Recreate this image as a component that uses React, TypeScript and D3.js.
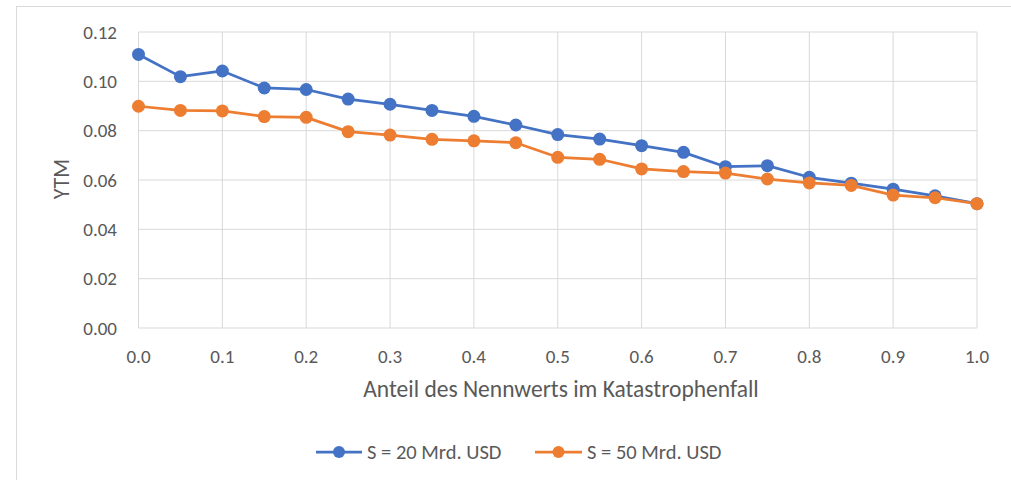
import * as d3 from 'd3';
import React from 'react';

// share of face value lost in the catastrophe case
const anteil = [0, 0.05, 0.1, 0.15, 0.2, 0.25, 0.3, 0.35, 0.4, 0.45, 0.5, 0.55, 0.6, 0.65, 0.7, 0.75, 0.8, 0.85, 0.9, 0.95, 1.0];

// YTM for S = 20 Mrd. USD
const ytm20 = [0.1109, 0.1019, 0.1042, 0.0973, 0.0967, 0.0928, 0.0907, 0.0882, 0.0858, 0.0823, 0.0784, 0.0766, 0.0739, 0.0712, 0.0654, 0.0658, 0.0611, 0.0587, 0.0563, 0.0536, 0.0504];

// YTM for S = 50 Mrd. USD
const ytm50 = [0.0899, 0.0882, 0.0880, 0.0857, 0.0854, 0.0796, 0.0782, 0.0765, 0.0759, 0.0751, 0.0692, 0.0684, 0.0645, 0.0634, 0.0628, 0.0604, 0.0588, 0.0578, 0.0539, 0.0528, 0.0504];

const xTicks = [0, 0.1, 0.2, 0.3, 0.4, 0.5, 0.6, 0.7, 0.8, 0.9, 1.0];
const yTicks = [0, 0.02, 0.04, 0.06, 0.08, 0.1, 0.12];

const seriesNames = ['S = 20 Mrd. USD', 'S = 50 Mrd. USD'];
const colors = ['#4472C4', '#ED7D31'];

const W = 1011;
const H = 480;
const font = "Carlito, 'Open Sans', sans-serif";
const textColor = '#595959';

const App = () => {
  const x = d3.scaleLinear().domain([0, 1]).range([138.5, 977]);
  const y = d3.scaleLinear().domain([0, 0.12]).range([328, 32]);

  const line = d3
    .line<number>()
    .x((d, i) => x(anteil[i]))
    .y((d) => y(d));

  const allSeries = [ytm20, ytm50];

  //legend positions: line start, line end
  const legend = [
    { x0: 316, x1: 362 },
    { x0: 535, x1: 582 }
  ];

  return (
    <svg width={W} height={H} style={{ position: 'absolute', left: 0, top: 0 }} fontFamily={font}>
      <rect x={0} y={0} width={W} height={H} fill="#fff" />
      <rect x={16.5} y={6.5} width={1010} height={490} fill="none" stroke="#d9d9d9" />

      {/* vertical gridlines */}
      {xTicks.map((t) => (
        <line key={'vx' + t} x1={x(t)} x2={x(t)} y1={y(0.12)} y2={y(0)} stroke="#d9d9d9" strokeWidth={1} />
      ))}
      {/* horizontal gridlines */}
      {yTicks.map((t) => (
        <line key={'hy' + t} x1={x(0)} x2={x(1)} y1={y(t)} y2={y(t)} stroke="#d9d9d9" strokeWidth={1} />
      ))}

      {/* y tick labels */}
      {yTicks.map((t) => (
        <text key={'ly' + t} x={117} y={y(t)} dy="0.35em" textAnchor="end" fontSize={19} fill={textColor}>
          {d3.format('.2f')(t)}
        </text>
      ))}
      {/* x tick labels */}
      {xTicks.map((t) => (
        <text key={'lx' + t} x={x(t)} y={356} dy="0.35em" textAnchor="middle" fontSize={19} fill={textColor}>
          {d3.format('.1f')(t)}
        </text>
      ))}

      <text x={561} y={389} dy="0.35em" textAnchor="middle" fontSize={23.5} fill={textColor}>
        Anteil des Nennwerts im Katastrophenfall
      </text>
      <text
        transform={`translate(61, ${y(0.06) - 1}) rotate(-90)`}
        dy="0.35em"
        textAnchor="middle"
        fontSize={22}
        fill={textColor}
      >
        YTM
      </text>

      {/* series */}
      {allSeries.map((s, k) => (
        <g key={'s' + k}>
          <path d={line(s) || ''} fill="none" stroke={colors[k]} strokeWidth={2.75} strokeLinejoin="round" />
          {s.map((v, i) => (
            <circle key={i} cx={x(anteil[i])} cy={y(v)} r={6.5} fill={colors[k]} />
          ))}
        </g>
      ))}

      {/* legend */}
      {legend.map((l, k) => (
        <g key={'lg' + k}>
          <line x1={l.x0} x2={l.x1} y1={452} y2={452} stroke={colors[k]} strokeWidth={2.75} />
          <circle cx={(l.x0 + l.x1) / 2} cy={452} r={6} fill={colors[k]} />
          <text x={l.x1 + 5} y={452} dy="0.35em" fontSize={20.5} fill={textColor}>
            {seriesNames[k]}
          </text>
        </g>
      ))}
    </svg>
  );
};

export default App;
